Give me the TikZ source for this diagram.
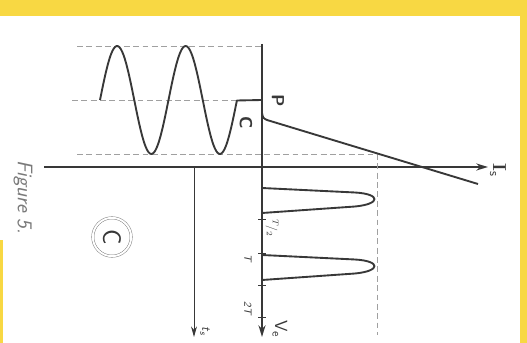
\documentclass[tikz,border=0pt]{standalone}
\usepackage{fontspec}
\usepackage{tikz}
\usetikzlibrary{arrows.meta}
\definecolor{PaperYellow}{HTML}{F8D843}
\definecolor{InkGray}{HTML}{383838}
\definecolor{DashGray}{HTML}{A0A0A0}
\definecolor{PrintGray}{HTML}{7A7A7A}

\begin{document}
\begin{tikzpicture}[x=0.03cm, y=-0.03cm,
    axis/.style={InkGray, line width=1.5pt, -{Stealth[length=10pt, width=6pt]}},
    thinaxis/.style={InkGray, line width=0.7pt, -{Stealth[length=9pt, width=5pt]}},
    wave/.style={InkGray, line width=1.6pt, line join=round},
    guide/.style={DashGray, line width=0.6pt, dash pattern=on 5pt off 3pt},
    tickmark/.style={InkGray, line width=0.8pt},
    lab/.style={text=InkGray, font=\sffamily, rotate=-90, inner sep=0pt}]
  % paper with its yellow edge
  \fill[PaperYellow] (0,0) rectangle (527,343);
  \fill[white] (0,16) rectangle (520,343);
  \fill[PaperYellow] (0,240) rectangle (3,343);
  \useasboundingbox (0,0) rectangle (527,343);

  % axes
  \coordinate (vtop) at (262,44);
  \coordinate (vend) at (262,337);
  \coordinate (hbeg) at (44,167);
  \coordinate (hend) at (488,167);
  \coordinate (tsbeg) at (194,167);
  \coordinate (tsend) at (194,337);
  \draw[axis] (vtop) -- (vend);
  \draw[axis] (hbeg) -- (hend);
  \draw[thinaxis] (tsbeg) -- (tsend);

  % dashed guides
  \coordinate (peak) at (77,46);
  \coordinate (peakax) at (262,46);
  \coordinate (mid) at (72,100);
  \coordinate (P) at (262,100);
  \coordinate (trough) at (77,154);
  \coordinate (K) at (377,154);
  \coordinate (Kend) at (377,335);
  \draw[guide] (peak) -- (peakax);
  \draw[guide] (mid) -- (P);
  \draw[guide] (trough) -- (K) -- (Kend);

  % input sine
  \draw[wave] plot[domain=0:2, samples=100, smooth]
    ({100+68.5*\x},{100-54*sin(360*\x)}) -- (P);

  % transfer characteristic
  \coordinate (C) at (262,113);
  \coordinate (Cbend) at (267,120);
  \coordinate (lineend) at (478,184);
  \draw[wave] (C) .. controls (263,118) .. (Cbend) -- (lineend);

  % output pulses
  \draw[wave] (262,188) -- (355,192.5) .. controls (381,194) and (381,204) .. (355,206.5) -- (262,213);
  \draw[wave] (262,255) -- (355,259.5) .. controls (381,261) and (381,271) .. (355,273.5) -- (262,280);

  % time ticks
  \draw[tickmark] (258,219) -- (266,219);
  \draw[tickmark] (258,253) -- (266,253);
  \draw[tickmark] (258,285) -- (266,285);
  \draw[tickmark] (258,317) -- (266,317);

  % labels
  \node[lab, font=\sffamily\bfseries\fontsize{15}{16}\selectfont] (Plab) at (278,101) {P};
  \node[lab, font=\sffamily\bfseries\fontsize{15}{16}\selectfont] (Clab) at (246,123) {C};
  \node[lab, font=\fontsize{16}{17}\selectfont] (Islab) at (498,170) {\textbf{I}\textsubscript{\sffamily s}};
  \node[lab, font=\sffamily\fontsize{15}{16}\selectfont] (Velab) at (280,329) {V\textsubscript{e}};
  \node[lab, font=\sffamily\itshape\fontsize{11}{12}\selectfont] (tslab) at (205,331) {t\textsubscript{s}};
  \node[lab, font=\sffamily\fontsize{10}{11}\selectfont] (halfT) at (272,228) {$^{T}\!/_{2}$};
  \node[lab, font=\sffamily\itshape\fontsize{9}{10}\selectfont] (Tlab) at (248,258) {T};
  \node[lab, font=\sffamily\itshape\fontsize{9}{10}\selectfont] (twoT) at (248,308) {2T};
  \node[lab, text=PrintGray, font=\sffamily\itshape\fontsize{18}{19}\selectfont] (fig) at (23,197) {Figure 5.};
  \node[lab, text=InkGray, draw=PrintGray, circle, line width=0.4pt, double, double distance=1.6pt,
        minimum size=1.15cm, font=\sffamily\fontsize{22}{23}\selectfont] (circC) at (112,237) {C};
\end{tikzpicture}
\end{document}
